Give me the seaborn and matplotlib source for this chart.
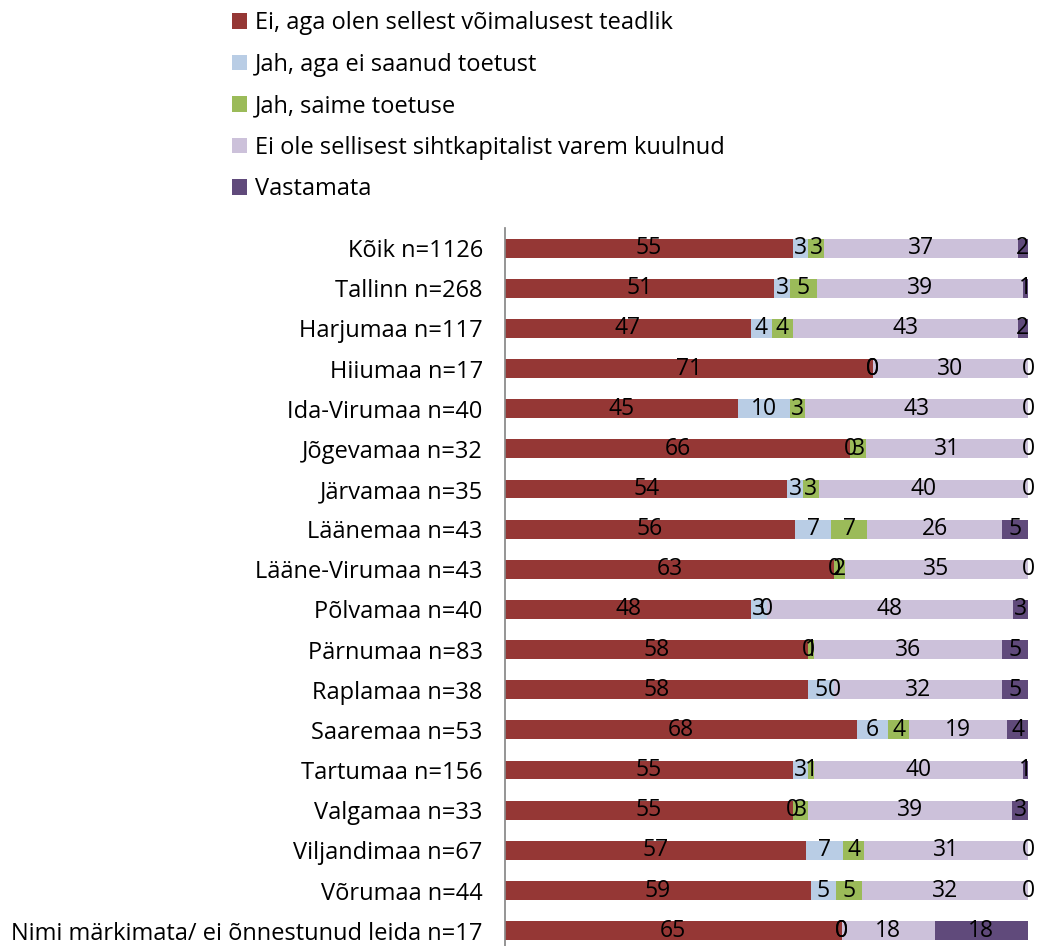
import matplotlib
matplotlib.use("Agg")
import matplotlib.pyplot as plt
from matplotlib.patches import Patch
import seaborn as sns
import numpy as np
import pandas as pd

categories = ["Kõik n=1126", "Tallinn n=268", "Harjumaa n=117", "Hiiumaa n=17",
              "Ida-Virumaa n=40", "Jõgevamaa n=32", "Järvamaa n=35", "Läänemaa n=43",
              "Lääne-Virumaa n=43", "Põlvamaa n=40", "Pärnumaa n=83", "Raplamaa n=38",
              "Saaremaa n=53", "Tartumaa n=156", "Valgamaa n=33", "Viljandimaa n=67",
              "Võrumaa n=44", "Nimi märkimata/ ei õnnestunud leida n=17"]
series_names = ["Ei, aga olen sellest võimalusest teadlik", "Jah, aga ei saanud toetust",
                "Jah, saime toetuse", "Ei ole sellisest sihtkapitalist varem kuulnud", "Vastamata"]
teadlik    = [55, 51, 47, 71, 45, 66, 54, 56, 63, 48, 58, 58, 68, 55, 55, 57, 59, 65]
ei_saanud  = [3, 3, 4, 0, 10, 0, 3, 7, 0, 3, 0, 5, 6, 3, 0, 7, 5, 0]
saime      = [3, 5, 4, 0, 3, 3, 3, 7, 2, 0, 1, 0, 4, 1, 3, 4, 5, 0]
ei_kuulnud = [37, 39, 43, 30, 43, 31, 40, 26, 35, 48, 36, 32, 19, 40, 39, 31, 32, 18]
vastamata  = [2, 1, 2, 0, 0, 0, 0, 5, 0, 3, 5, 5, 4, 1, 3, 0, 0, 18]
colors = ["#953735", "#B9CDE5", "#9BBB59", "#CCC1DA", "#604A7B"]

sns.set_theme(style="white")
plt.rcParams['font.family'] = ['Open Sans', 'DejaVu Sans']
plt.rcParams['text.color'] = 'black'
FS = 17

df = pd.DataFrame(dict(zip(series_names, [teadlik, ei_saanud, saime, ei_kuulnud, vastamata])),
                  index=categories)
shares = df.div(df.sum(axis=1), axis=0) * 100
cum = shares.cumsum(axis=1)

fig = plt.figure(figsize=(10.37, 9.46), dpi=100)
ax = fig.add_axes([505 / 1037, -0.005, 523 / 1037, 1 - 228 / 946 + 0.005])

# 100% stacked bars: draw cumulative totals from the back
for name, color in reversed(list(zip(series_names, colors))):
    sns.barplot(x=cum[name].values, y=categories, color=color, orient="h",
                width=0.47, saturation=1, linewidth=0, ax=ax)

for name in series_names:
    centers = cum[name] - shares[name] / 2
    for i, (c, v) in enumerate(zip(centers, df[name])):
        ax.text(c, i, str(v), ha="center", va="center", fontsize=16.5, color="black")

ax.set_xlim(0, 100)
ax.set_ylim(len(categories) - 0.5, -0.5)
ax.set_xlabel("")
ax.set_ylabel("")
ax.set_xticks([])
ax.tick_params(axis="y", length=0, pad=16, labelsize=FS, labelcolor="black")
for s in ["top", "right", "bottom"]:
    ax.spines[s].set_visible(False)
ax.spines["left"].set_color("#888888")

handles = [Patch(facecolor=c, edgecolor="none") for c in colors]
fig.legend(handles, series_names, loc="upper left", bbox_to_anchor=(223 / 1037, 0.998),
           borderaxespad=0, frameon=False, fontsize=FS, handlelength=0.62, handleheight=0.62,
           handletextpad=0.33, labelspacing=0.74, labelcolor="black")

fig.savefig("out.png", dpi=100)
